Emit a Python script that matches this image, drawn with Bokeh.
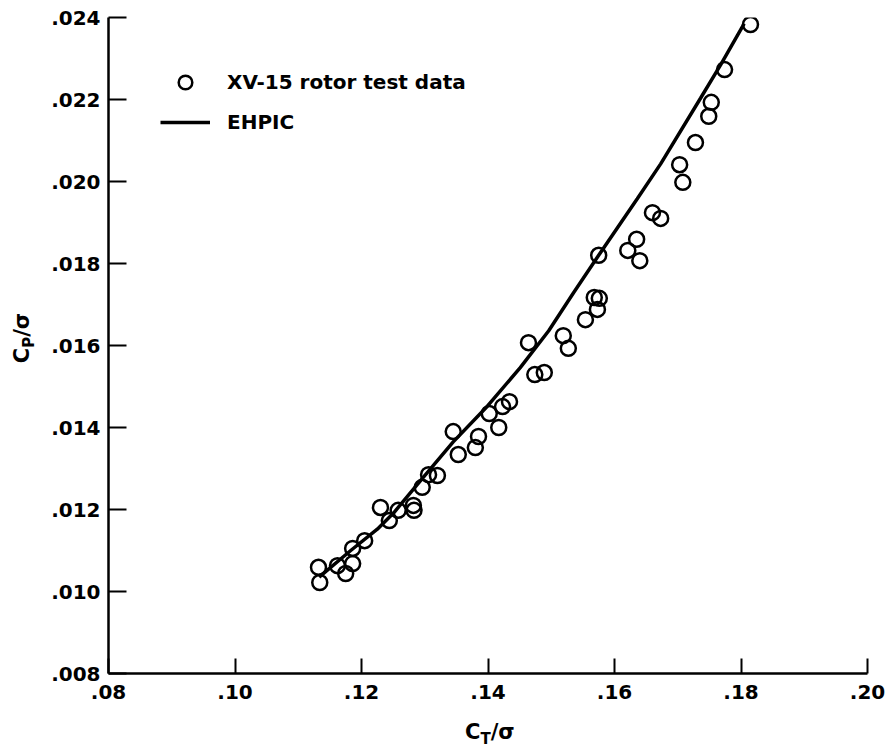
from bokeh.plotting import figure
from bokeh.models import (Range1d, FixedTicker, CustomJSTickFormatter, Legend,
                          LegendItem, Div)
from bokeh.layouts import row, column
from bokeh.embed import file_html
from bokeh.resources import INLINE

# XV-15 rotor test data (C_T/sigma, C_P/sigma)
test_ct = [0.1132, 0.1134, 0.1162, 0.1175, 0.1186, 0.1186, 0.1205, 0.1230,
           0.1244, 0.1258, 0.1282, 0.1283, 0.1296, 0.1306, 0.1320, 0.1345,
           0.1353, 0.1380, 0.1385, 0.1402, 0.1417, 0.1423, 0.1434, 0.1464,
           0.1474, 0.1489, 0.1519, 0.1527, 0.1554, 0.1568, 0.1576, 0.1573,
           0.1575, 0.1621, 0.1635, 0.1640, 0.1660, 0.1673, 0.1703, 0.1708,
           0.1728, 0.1749, 0.1753, 0.1774, 0.1815]
test_cp = [0.01059, 0.01022, 0.01063, 0.01044, 0.01068, 0.01105, 0.01124, 0.01205,
           0.01173, 0.01198, 0.01210, 0.01198, 0.01254, 0.01285, 0.01283, 0.01390,
           0.01334, 0.01351, 0.01378, 0.01434, 0.01400, 0.01451, 0.01463, 0.01607,
           0.01529, 0.01534, 0.01624, 0.01593, 0.01663, 0.01717, 0.01715, 0.01688,
           0.01820, 0.01832, 0.01859, 0.01807, 0.01924, 0.01910, 0.02041, 0.01998,
           0.02095, 0.02159, 0.02193, 0.02273, 0.02383]

# EHPIC prediction
ehpic_ct = [0.1133, 0.1183, 0.1225, 0.1251, 0.1293, 0.1345, 0.1399, 0.1451,
            0.1496, 0.1535, 0.1575, 0.1636, 0.1673, 0.1736, 0.1768, 0.1805]
ehpic_cp = [0.01035, 0.01100, 0.01152, 0.01192, 0.01270, 0.01365, 0.01452, 0.01546,
            0.01636, 0.01728, 0.01820, 0.01958, 0.02043, 0.02203, 0.02285, 0.02385]

x_ticks = [0.08, 0.10, 0.12, 0.14, 0.16, 0.18, 0.20]
y_ticks = [0.008, 0.010, 0.012, 0.014, 0.016, 0.018, 0.020, 0.022, 0.024]

FONT = "DejaVu Sans"

p = figure(width=852, height=708, output_backend="svg", toolbar_location=None,
           x_range=Range1d(0.08, 0.20), y_range=Range1d(0.008, 0.024))
p.min_border_left = 68
p.min_border_right = 25
p.min_border_top = 17
p.min_border_bottom = 35
p.outline_line_color = None
p.xgrid.visible = False
p.ygrid.visible = False
p.background_fill_color = "white"

for ax, ticks, fmt, tin in ((p.xaxis[0], x_ticks, 2, 15), (p.yaxis[0], y_ticks, 3, 18)):
    ax.ticker = FixedTicker(ticks=ticks)
    ax.formatter = CustomJSTickFormatter(code=f"return tick.toFixed({fmt}).replace(/^0/, '')")
    ax.major_tick_in = tin
    ax.major_tick_out = 0
    ax.minor_tick_line_color = None
    ax.major_tick_line_width = 2
    ax.axis_line_width = 2.5
    ax.axis_line_color = "black"
    ax.major_tick_line_color = "black"
    ax.major_label_text_font = FONT
    ax.major_label_text_font_style = "bold"
    ax.major_label_text_font_size = "20px"
    ax.major_label_text_color = "black"
p.xaxis.major_label_standoff = 11
p.yaxis.major_label_standoff = 8

sc = p.scatter(test_ct, test_cp, marker="circle", size=15, fill_alpha=0,
               line_color="black", line_width=2.5)
ln = p.line(ehpic_ct, ehpic_cp, line_color="black", line_width=3.5)

legend = Legend(items=[LegendItem(label="XV-15 rotor test data", renderers=[sc]),
                       LegendItem(label="EHPIC", renderers=[ln])],
                location=(52, 534), glyph_width=50, glyph_height=34,
                label_height=20, label_standoff=17, spacing=6, padding=0,
                margin=0, border_line_alpha=0, background_fill_alpha=0,
                label_text_font=FONT, label_text_font_style="bold",
                label_text_font_size="20px", label_text_color="black")
p.add_layout(legend)

TXT = ("font-family:'DejaVu Sans';font-weight:bold;font-size:21px;color:black;"
       "white-space:nowrap;line-height:24px;")
ytitle = Div(width=40, height=708, margin=(0, 0, 0, 0),
             text=(f'<div style="position:relative;left:-8px;top:326px;width:60px;'
                   f'height:24px;text-align:center;transform:rotate(-90deg);{TXT}">'
                   'C<sub style="font-size:15px">P</sub>/σ</div>'))
xtitle = Div(width=852, height=40, margin=(0, 0, 0, 0),
             text=(f'<div style="position:relative;left:425px;top:12px;'
                   f'display:inline-block;{TXT}">'
                   'C<sub style="font-size:15px">T</sub>/σ</div>'))

layout = row(ytitle, column(p, xtitle, spacing=0), spacing=0)

open("out.html", "w").write(file_html(layout, INLINE))
